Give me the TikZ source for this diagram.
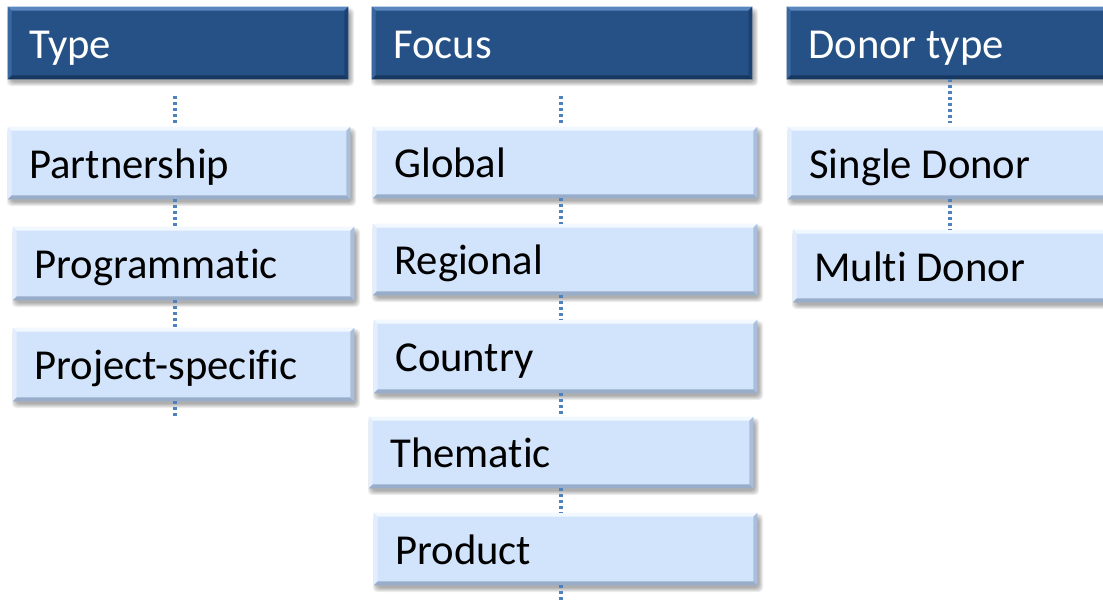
\documentclass[tikz,border=0pt]{standalone}
\usepackage{fontspec}
\setmainfont{Carlito}[Ligatures={NoCommon}]
\definecolor{hdrmain}{HTML}{255186}
\definecolor{hdrtop}{HTML}{5A86BF}
\definecolor{hdrleft}{HTML}{3A67A0}
\definecolor{hdrright}{HTML}{1C4273}
\definecolor{hdrbot}{HTML}{163760}
\definecolor{itmmain}{HTML}{D2E4FB}
\definecolor{itmtop}{HTML}{F2F8FF}
\definecolor{itmleft}{HTML}{E2EEFD}
\definecolor{itmright}{HTML}{A9BEDB}
\definecolor{itmbot}{HTML}{98ADCA}
\definecolor{dotblue}{HTML}{4F81BD}
\tikzset{
  boxbase/.style={inner xsep=16pt, inner ysep=0pt, text height=22.5pt, text depth=0pt,
    align=flush left, font=\fontsize{32}{37}\selectfont, anchor=center},
  hdr/.style={boxbase, fill=hdrmain, text=white},
  itm/.style={boxbase, fill=itmmain, text=black},
  dotline/.style={draw=dotblue, line width=2.6pt, dash pattern=on 2.4pt off 2.1pt}
}
\newcommand\bevbox[7]{%
  \pgfmathsetmacro\bw{(#4-#2)*0.75}%
  \pgfmathsetmacro\bh{(#5-#3)*0.75}%
  \pgfmathsetmacro\tw{(#4-#2)*0.75-32}%
  \foreach \k in {0,...,4}{\fill[black,opacity=0.07,rounded corners=3pt] (#2+3-\k,#3+5-\k) rectangle (#4+2+\k,#5+3+\k);}
  \node[#6, minimum width=\bw pt, minimum height=\bh pt, text width=\tw pt] (#1) at ({(#2+#4)/2},{(#3+#5)/2}) {\spaceskip=0pt\xspaceskip=0pt\relax #7};
  \fill[#6top] (#1.north west) -- (#1.north east) -- ([shift={(-3pt,-3pt)}]#1.north east) -- ([shift={(3pt,-3pt)}]#1.north west) -- cycle;
  \fill[#6left] (#1.north west) -- ([shift={(3pt,-3pt)}]#1.north west) -- ([shift={(3pt,3pt)}]#1.south west) -- (#1.south west) -- cycle;
  \fill[#6right] (#1.north east) -- ([shift={(-3pt,-3pt)}]#1.north east) -- ([shift={(-3pt,3pt)}]#1.south east) -- (#1.south east) -- cycle;
  \fill[#6bot] (#1.south west) -- ([shift={(3pt,3pt)}]#1.south west) -- ([shift={(-3pt,3pt)}]#1.south east) -- (#1.south east) -- cycle;
}
\begin{document}
\begin{tikzpicture}[x=0.75pt,y=-0.75pt]
\useasboundingbox (0,0) rectangle (1103,600);
\fill[white] (0,0) rectangle (1103,600);
\clip (0,0) rectangle (1103,600);
% column axes
\coordinate (c1) at (175,0);
\coordinate (c2) at (561,0);
\coordinate (c3) at (950,0);
% headers
\bevbox{h1}{8}{7}{348}{79}{hdr}{Type}
\bevbox{h2}{372}{7}{752}{79}{hdr}{Focus}
\bevbox{h3}{787}{7}{1125}{79}{hdr}{Donor type}
% Type column
\bevbox{t1}{8}{127}{350}{199}{itm}{Partnership}
\bevbox{t2}{13}{227}{354}{300}{itm}{Programmatic}
\bevbox{t3}{13}{328}{354}{401}{itm}{Project-specific}
% Focus column
\bevbox{f1}{373}{127}{757}{198}{itm}{Global}
\bevbox{f2}{373}{224}{757}{295}{itm}{Regional}
\bevbox{f3}{374}{320}{757}{393}{itm}{Country}
\bevbox{f4}{369}{417}{753}{488}{itm}{Thematic}
\bevbox{f5}{374}{513}{757}{585}{itm}{Product}
% Donor column
\bevbox{d1}{788}{127}{1125}{199}{itm}{Single Donor}
\bevbox{d2}{793}{230}{1125}{302}{itm}{Multi Donor}
% loose ends
\coordinate (e1) at (175,417);
\coordinate (e2) at (561,600);
% connectors
\draw[dotline] ([yshift=-12.75pt]h1.south -| c1) -- ([yshift=3pt]t1.north -| c1);
\draw[dotline] (t1.south -| c1) -- (t2.north -| c1);
\draw[dotline] (t2.south -| c1) -- (t3.north -| c1);
\draw[dotline] (t3.south -| c1) -- (e1);
\draw[dotline] ([yshift=-12.75pt]h2.south -| c2) -- ([yshift=2pt]f1.north -| c2);
\draw[dotline] (f1.south -| c2) -- (f2.north -| c2);
\draw[dotline] (f2.south -| c2) -- (f3.north -| c2);
\draw[dotline] (f3.south -| c2) -- (f4.north -| c2);
\draw[dotline] (f4.south -| c2) -- (f5.north -| c2);
\draw[dotline] (f5.south -| c2) -- (e2);
\draw[dotline] (h3.south -| c3) -- ([yshift=3pt]d1.north -| c3);
\draw[dotline] (d1.south -| c3) -- (d2.north -| c3);
\end{tikzpicture}
\end{document}
